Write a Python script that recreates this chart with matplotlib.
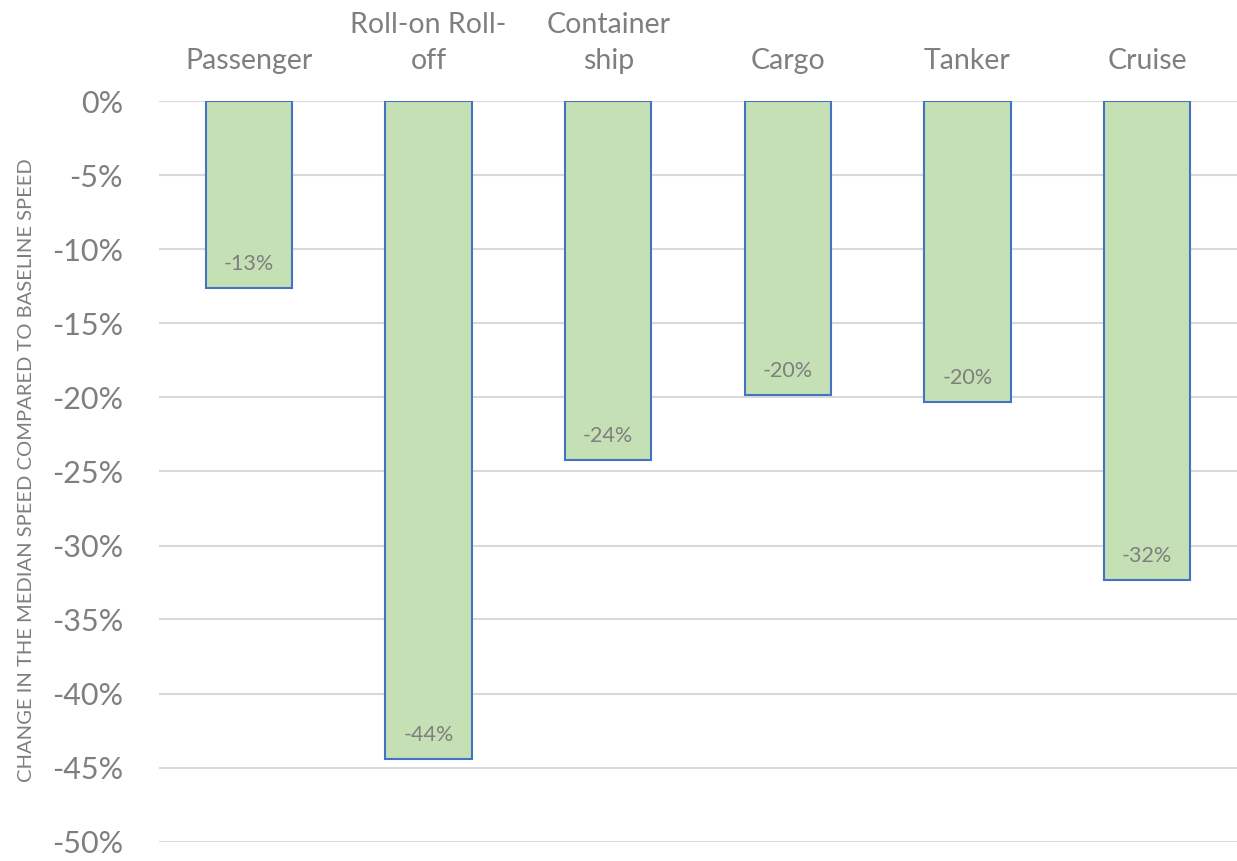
import numpy as np
import matplotlib
matplotlib.use('Agg')
import matplotlib.pyplot as plt
from matplotlib.ticker import FuncFormatter

# ship types and change in median speed vs baseline (fraction)
ship_types = ['Passenger', 'Roll-on Roll-\noff', 'Container\nship', 'Cargo', 'Tanker', 'Cruise']
speed_change = [-0.126, -0.444, -0.242, -0.198, -0.203, -0.323]
y_ticks = [0, -0.05, -0.10, -0.15, -0.20, -0.25, -0.30, -0.35, -0.40, -0.45, -0.50]

grey = '#7F7F7F'
plt.rcParams['font.family'] = ['Lato', 'DejaVu Sans']
plt.rcParams['ytick.major.pad'] = 26

fig = plt.figure(figsize=(12.37, 8.61), dpi=100)
ax = fig.add_axes([159 / 1237, 1 - 841.5 / 861, 1 - 159 / 1237, (841.5 - 101.5) / 861])

x = np.arange(len(ship_types))
bars = ax.bar(x, speed_change, width=0.48, color='#C5E0B4', edgecolor='#4472C4', linewidth=1.5, zorder=3)

# value labels just inside the bottom of each bar
for b, v in zip(bars, speed_change):
    ax.annotate('{:.0f}%'.format(v * 100), (b.get_x() + b.get_width() / 2, v),
                xytext=(0, 10), textcoords='offset points', ha='center', va='bottom',
                fontsize=15.5, color=grey, zorder=4)

ax.set_xlim(-0.5, len(ship_types) - 0.5)
ax.set_ylim(-0.5, 0)
ax.set_yticks(y_ticks)
ax.yaxis.set_major_formatter(FuncFormatter(lambda v, p: '{:.0f}%'.format(v * 100)))
ax.tick_params(axis='y', length=0, pad=26, labelsize=22, labelcolor=grey)

ax.xaxis.tick_top()
ax.set_xticks(x)
ax.set_xticklabels(ship_types, linespacing=1.45)
ax.tick_params(axis='x', length=0, pad=20, labelsize=20.5, labelcolor=grey)

ax.grid(axis='y', color='#D9D9D9', linewidth=1.5, zorder=0)
ax.set_axisbelow(True)
for s in ax.spines.values():
    s.set_visible(False)

fig.text(27 / 1237, 1 - 470 / 861, 'CHANGE IN THE MEDIAN SPEED COMPARED TO BASELINE SPEED',
         rotation=90, ha='center', va='center', fontsize=14.5, color=grey)

fig.savefig('out.png', dpi=100)
